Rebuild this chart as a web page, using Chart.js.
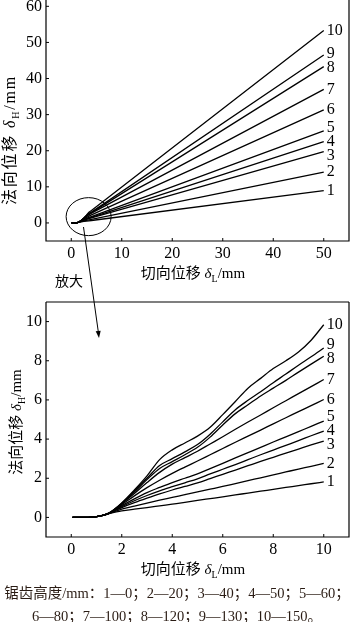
<!DOCTYPE html>
<html><head><meta charset="utf-8">
<script src="https://cdn.jsdelivr.net/npm/chart.js@4.4.1/dist/chart.umd.min.js"></script>
<style>
html,body{margin:0;padding:0;background:#fff;}
body{width:350px;height:622px;position:relative;overflow:hidden;font-family:"Liberation Serif","Noto Sans CJK SC",serif;color:#000;}
canvas{position:absolute;left:0;}
#c1{top:0;}
#c2{top:290px;}
.t{position:absolute;white-space:nowrap;font-size:15px;line-height:15px;transform:translate(-50%,-50%);}
.r{transform:translate(-50%,-50%) rotate(-90deg);}
.cjk{font-family:"Noto Sans CJK SC",sans-serif;}
.sub{font-size:10px;position:relative;top:4px;}
#cap{position:absolute;left:0;top:581px;width:354px;text-align:center;font-size:14.5px;line-height:21px;color:#2a1c14;font-family:"Liberation Serif","Noto Sans CJK SC",serif;}
svg{position:absolute;left:0;top:0;}
</style></head>
<body>
<canvas id="c1" width="350" height="290"></canvas>
<canvas id="c2" width="350" height="290"></canvas>
<div class="t" style="left:193px;top:273px;"><span class="cjk">切向位移</span> <i>δ</i><span class="sub">L</span>/mm</div>
<div class="t" style="left:193px;top:569px;"><span class="cjk">切向位移</span> <i>δ</i><span class="sub">L</span>/mm</div>
<div class="t r" style="left:10px;top:140px;letter-spacing:1.8px;font-size:16px;"><span class="cjk">法向位移</span> <i>δ</i><span class="sub">H</span>/mm</div>
<div class="t r" style="left:16px;top:422px;"><span class="cjk">法向位移</span> <i>δ</i><span class="sub">H</span>/mm</div>
<div class="t cjk" style="left:69px;top:280px;font-size:14px;">放大</div>
<div id="cap"><span class="cjk">锯齿高度</span>/mm<span class="cjk">：</span>1—0<span class="cjk">；</span>2—20<span class="cjk">；</span>3—40<span class="cjk">；</span>4—50<span class="cjk">；</span>5—60<span class="cjk">；</span><br>6—80<span class="cjk">；</span>7—100<span class="cjk">；</span>8—120<span class="cjk">；</span>9—130<span class="cjk">；</span>10—150<span class="cjk">。</span></div>
<svg width="350" height="622">
<line x1="83.5" y1="227" x2="98.2" y2="331" stroke="#000" stroke-width="1"/>
<polygon points="99,338 100.7,330.8 95.7,331.3" fill="#000"/>
</svg>
<script>
// ---- data ----
const seriesNames = ['1','2','3','4','5','6','7','8','9','10'];
const sawHeights = [0,20,40,50,60,80,100,120,130,150];
const xDetail = [0.05,0.5,0.8,1.0,1.2,1.5,2,2.5,3,3.5,4,4.5,5,5.5,6,6.5,7,7.5,8,8.5,9,9.5,10];
const s1  = [0,0,0.01,0.04,0.09,0.19,0.33,0.42,0.5,0.59,0.68,0.77,0.87,0.96,1.05,1.15,1.24,1.34,1.43,1.53,1.62,1.72,1.81];
const s2  = [0,0,0.01,0.04,0.09,0.2,0.42,0.58,0.73,0.88,1.02,1.16,1.3,1.44,1.58,1.73,1.88,2.02,2.17,2.32,2.47,2.61,2.76];
const s3  = [0,0,0.01,0.04,0.09,0.21,0.5,0.75,0.98,1.2,1.4,1.58,1.76,1.98,2.2,2.42,2.64,2.86,3.07,3.28,3.49,3.7,3.9];
const s4  = [0,0,0.01,0.04,0.09,0.21,0.55,0.85,1.12,1.36,1.57,1.77,1.97,2.22,2.46,2.7,2.95,3.2,3.44,3.68,3.92,4.17,4.41];
const s5  = [0,0,0.01,0.04,0.09,0.21,0.6,0.95,1.27,1.53,1.78,2.0,2.22,2.49,2.76,3.04,3.31,3.58,3.85,4.11,4.38,4.65,4.92];
const s6  = [0,0,0.01,0.04,0.09,0.22,0.65,1.1,1.52,1.9,2.25,2.57,2.88,3.2,3.52,3.84,4.15,4.46,4.78,5.09,5.4,5.71,6.02];
const s7  = [0,0,0.01,0.04,0.09,0.22,0.7,1.22,1.78,2.3,2.72,3.05,3.38,3.75,4.12,4.5,4.87,5.23,5.6,5.96,6.32,6.68,7.04];
const s8  = [0,0,0.01,0.04,0.09,0.22,0.71,1.3,1.93,2.5,2.85,3.2,3.58,4.1,4.72,5.3,5.75,6.2,6.6,7.0,7.42,7.83,8.23];
const s9  = [0,0,0.01,0.04,0.09,0.22,0.72,1.35,2.0,2.65,3.0,3.35,3.72,4.25,4.88,5.5,5.98,6.42,6.88,7.32,7.77,8.2,8.65];
const s10 = [0,0,0.01,0.04,0.09,0.23,0.74,1.4,2.12,2.95,3.45,3.8,4.15,4.6,5.25,5.92,6.6,7.1,7.6,8.0,8.45,9.05,9.84];
const topEndX = 50;
const topEnd = [8.95,14.1,19.75,22.5,25.5,31.3,37.0,43.3,46.5,53.3];
const topXTicks = [0,10,20,30,40,50];
const topYTicks = [0,10,20,30,40,50,60];
const botXTicks = [0,2,4,6,8,10];
const botYTicks = [0,2,4,6,8,10];
const zoomCenter = [3.44,1.75];
// ---------------

const allSeries = [s1,s2,s3,s4,s5,s6,s7,s8,s9,s10];
const FONT = {family:"'Liberation Serif', serif", size:16};

const frame = {
  id:'frame',
  afterDraw(chart, args, opts){
    const {ctx, chartArea:a} = chart;
    ctx.save();
    ctx.strokeStyle='#000'; ctx.lineWidth=1.2;
    ctx.beginPath();
    if(opts.top){ ctx.moveTo(a.left,a.top); ctx.lineTo(a.right,a.top); }
    ctx.moveTo(a.left,a.top); ctx.lineTo(a.left,a.bottom); ctx.lineTo(a.right,a.bottom); ctx.lineTo(a.right,a.top);
    ctx.stroke();
    ctx.lineWidth=1;
    ctx.beginPath();
    chart.scales.x.ticks.forEach(t=>{const p=chart.scales.x.getPixelForValue(t.value); ctx.moveTo(p,a.bottom); ctx.lineTo(p,a.bottom-3);});
    chart.scales.y.ticks.forEach(t=>{const p=chart.scales.y.getPixelForValue(t.value); ctx.moveTo(a.left,p); ctx.lineTo(a.left+3,p);});
    ctx.stroke();
    if(opts.ellipse){
      const cx=chart.scales.x.getPixelForValue(opts.ellipse[0]);
      const cy=chart.scales.y.getPixelForValue(opts.ellipse[1]);
      ctx.beginPath(); ctx.lineWidth=1;
      ctx.ellipse(cx,cy,22.5,19,0,0,Math.PI*2); ctx.stroke();
    }
    ctx.restore();
  }
};
const endLabels = {
  id:'endLabels',
  afterDatasetsDraw(chart, args, opts){
    const {ctx} = chart;
    const items = chart.data.datasets.map((ds,i)=>{
      const meta=chart.getDatasetMeta(i); const pt=meta.data[meta.data.length-1];
      return {x:pt.x, y:pt.y, text:ds.label};
    }).sort((a,b)=>a.y-b.y);
    for(let it=0; it<60; it++){
      let moved=false;
      for(let i=1;i<items.length;i++){
        const d=items[i].y-items[i-1].y;
        if(d<opts.gap){const s=(opts.gap-d)/2; items[i-1].y-=s; items[i].y+=s; moved=true;}
      }
      if(!moved) break;
    }
    ctx.save();
    ctx.fillStyle='#000'; ctx.font="16px 'Liberation Serif', serif";
    ctx.textAlign='left'; ctx.textBaseline='middle';
    items.forEach(o=>ctx.fillText(o.text, o.x+3, o.y));
    ctx.restore();
  }
};

function scaleOpts(min,max,tickArr,isX,size){
  return {
    type:'linear', min, max,
    grid:{display:false, drawTicks:false}, border:{display:false},
    ticks:{font:FONT, color:'#000', padding:isX?3:4, autoSkip:false, maxRotation:0, minRotation:0},
    afterBuildTicks:s=>{ s.ticks = tickArr.map(v=>({value:v})); },
    afterFit:s=>{ if(isX){ s.height=size; s.paddingLeft=0; s.paddingRight=0; } else { s.width=size; s.paddingTop=0; s.paddingBottom=0; } }
  };
}

function makeChart(el, datasets, xs, ys, pad, plugOpts, tension){
  return new Chart(el, {
    type:'line',
    data:{datasets},
    options:{
      responsive:false, animation:false, devicePixelRatio:1,
      layout:{padding:pad},
      elements:{point:{radius:0}, line:{borderWidth:1.3, borderColor:'#000', tension}},
      plugins:{legend:{display:false}, tooltip:{enabled:false}, frame:plugOpts, endLabels:{gap:14}},
      scales:{x:xs, y:ys}
    },
    plugins:[frame,endLabels]
  });
}

const topSets = allSeries.map((s,i)=>{
  const pts=[];
  xDetail.forEach((x,j)=>{ if(x<=4) pts.push({x, y:s[j]}); });
  pts.push({x:topEndX, y:topEnd[i]});
  return {label:seriesNames[i], data:pts, borderColor:'#000', fill:false};
});
const botSets = allSeries.map((s,i)=>({
  label:seriesNames[i], data:xDetail.map((x,j)=>({x, y:s[j]})), borderColor:'#000', fill:false, cubicInterpolationMode:'monotone'
}));

makeChart(document.getElementById('c1'), topSets,
  scaleOpts(-5,55,topXTicks,true,49), scaleOpts(-5,61.75,topYTicks,false,46),
  {left:0,right:1,top:0,bottom:0}, {top:false, ellipse:zoomCenter}, 0);
makeChart(document.getElementById('c2'), botSets,
  scaleOpts(-1,11,botXTicks,true,43), scaleOpts(-1,11,botYTicks,false,46),
  {left:0,right:1,top:12,bottom:0}, {top:true}, 0);
</script>
</body></html>
